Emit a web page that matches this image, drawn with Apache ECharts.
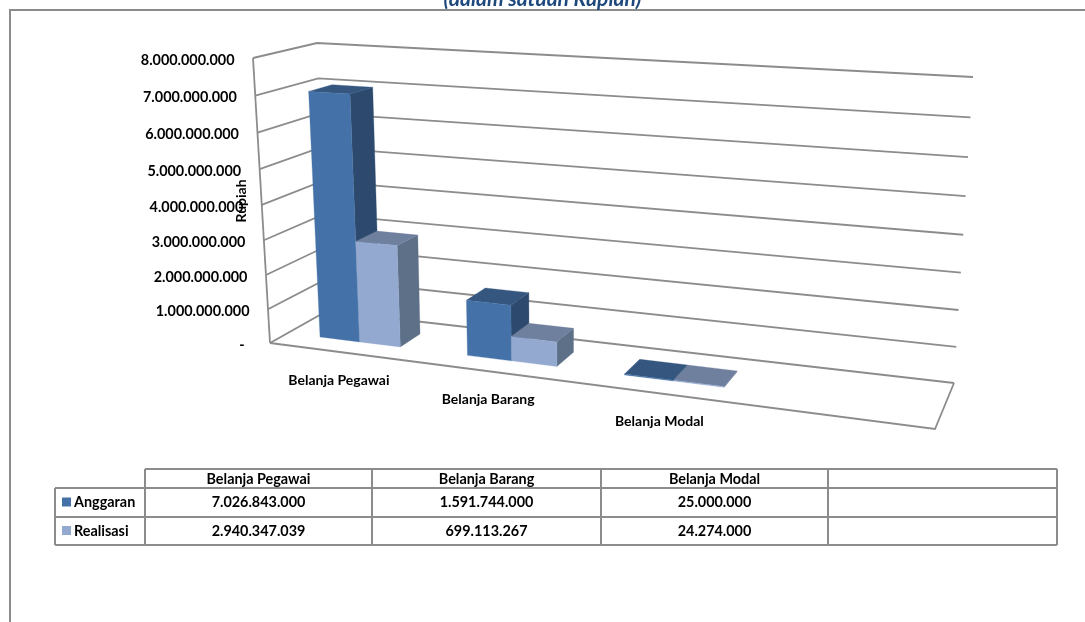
<!DOCTYPE html>
<html>
<head>
<meta charset="utf-8">
<title>Anggaran dan Realisasi</title>
<script src="https://cdn.jsdelivr.net/npm/echarts@6/dist/echarts.min.js"></script>
<style>
  html, body { margin: 0; padding: 0; background: #fff; }
  #chart { width: 1085px; height: 622px; }
</style>
</head>
<body>
<div id="chart"></div>
<script>
const categories = ['Belanja Pegawai', 'Belanja Barang', 'Belanja Modal', '']
const anggaran = [7026843000, 1591744000, 25000000]
const realisasi = [2940347039, 699113267, 24274000]
const yTicks = [0, 1000000000, 2000000000, 3000000000, 4000000000, 5000000000, 6000000000, 7000000000, 8000000000]

const FONT = 'Lato, "Noto Sans", sans-serif'
const GREY = '#8c8c8c'
const TEXT = '#000'
const colors = {
  anggaran: { front: '#4472a8', side: '#2d4a6e', top: '#34567f' },
  realisasi: { front: '#93a9d0', side: '#5e6f88', top: '#6f7f9e' }
}

// corners of the box as the picture shows them: floor and the plane at the axis max
const floorQuad = [[270, 343], [935, 429], [954, 383], [327, 311]]
const topQuad = [[253, 58], [949, 98.5], [973, 77], [317, 43]]

function homography(q) {
  const [[x0, y0], [x1, y1], [x2, y2], [x3, y3]] = q
  const dx1 = x1 - x2, dy1 = y1 - y2, dx2 = x3 - x2, dy2 = y3 - y2
  const sx = x0 - x1 + x2 - x3, sy = y0 - y1 + y2 - y3
  const den = dx1 * dy2 - dx2 * dy1
  const g = (sx * dy2 - dx2 * sy) / den
  const h = (dx1 * sy - sx * dy1) / den
  return (u, w) => {
    const d = g * u + h * w + 1
    return [
      ((x1 - x0 + g * x1) * u + (x3 - x0 + h * x3) * w + x0) / d,
      ((y1 - y0 + g * y1) * u + (y3 - y0 + h * y3) * w + y0) / d
    ]
  }
}
const onFloor = homography(floorQuad)
const onTop = homography(topQuad)

// u: along categories, v: along the value axis, w: depth, all 0..1
function project(u, v, w) {
  const t = 0.06
  const k = v * (1 - t) / (1 - t * v)
  const a = onFloor(u, w)
  const b = onTop(u, w)
  return [a[0] + (b[0] - a[0]) * k, a[1] + (b[1] - a[1]) * k]
}

function toUV(pt, cs) {
  return { u: (pt[0] - cs.x) / cs.width, v: (cs.y + cs.height - pt[1]) / cs.height }
}

const bandShift = [0.008, 0.018, 0.017] // bars sit a little right of the band centre
const labelShift = 0.012
const barWidth = 0.29 // share of a category band
const barDepth = [0.3, 0.68]
const catLabelDx = [-6, -5, 1]

function barSeries(name, data, side, palette) {
  return {
    name,
    type: 'custom',
    coordinateSystem: 'cartesian2d',
    clip: false,
    data: data.map((v, i) => [i, v]),
    renderItem(params, api) {
      const cs = params.coordSys
      const { u, v } = toUV(api.coord([api.value(0), api.value(1)]), cs)
      const bar = api.size([1, 0])[0] / cs.width * barWidth
      const u0 = u + bandShift[api.value(0)] + (side === 0 ? -bar : 0)
      const u1 = u0 + bar
      const [w0, w1] = barDepth
      const face = (pts, fill) => ({
        type: 'polygon',
        shape: { points: pts.map(p => project(p[0], p[1], p[2])) },
        style: { fill, stroke: fill, lineWidth: 0.3 }
      })
      return {
        type: 'group',
        children: [
          face([[u1, 0, w0], [u1, 0, w1], [u1, v, w1], [u1, v, w0]], palette.side),
          face([[u0, v, w0], [u1, v, w0], [u1, v, w1], [u0, v, w1]], palette.top),
          face([[u0, 0, w0], [u1, 0, w0], [u1, v, w0], [u0, v, w0]], palette.front)
        ]
      }
    }
  }
}

function tickText(v) {
  return v === 0 ? '-  ' : dotted(v)
}
function dotted(v) {
  return String(v).replace(/\B(?=(\d{3})+(?!\d))/g, '.')
}

const wallSeries = {
  type: 'custom',
  coordinateSystem: 'cartesian2d',
  clip: false,
  data: yTicks.map(t => [0, t]),
  renderItem(params, api) {
    const cs = params.coordSys
    const { v } = toUV(api.coord([0, api.value(1)]), cs)
    const line = pts => ({
      type: 'polyline',
      shape: { points: pts.map(p => project(p[0], p[1], p[2])) },
      style: { stroke: GREY, fill: 'none', lineWidth: 1.8 }
    })
    const children = [line([[0, v, 0], [0, v, 1], [1, v, 1]])]
    if (api.value(1) === 0) {
      children.push(line([[0, 0, 0], [1, 0, 0], [1, 0, 1]]))
      children.push(line([[0, 0, 0], [0, 1, 0]]))
    }
    const p = project(0, v, 0)
    children.push({
      type: 'text',
      style: {
        text: tickText(api.value(1)), x: p[0] - 18.5, y: p[1] + 2,
        align: 'right', verticalAlign: 'middle',
        font: 'bold 14.4px ' + FONT, fill: TEXT
      }
    })
    return { type: 'group', children }
  }
}

const categorySeries = {
  type: 'custom',
  coordinateSystem: 'cartesian2d',
  clip: false,
  data: categories.slice(0, 3).map((c, i) => [i, 0]),
  renderItem(params, api) {
    const cs = params.coordSys
    const i = api.value(0)
    const { u } = toUV(api.coord([i, 0]), cs)
    const p = project(u + labelShift, 0, 0)
    return {
      type: 'text',
      style: {
        text: categories[i], x: p[0] + catLabelDx[i], y: p[1] + 28,
        align: 'center', verticalAlign: 'middle',
        font: 'bold 14px ' + FONT, fill: TEXT
      }
    }
  }
}

// data table under the plot
const colX = [145, 372, 601, 828, 1057]
const rowY = [469, 488, 517, 545]
const legendLeft = 55

function hLine(x1, x2, y) {
  return { type: 'line', shape: { x1, y1: y, x2, y2: y }, style: { stroke: GREY, lineWidth: 2 } }
}
function vLine(x, y1, y2) {
  return { type: 'line', shape: { x1: x, y1, x2: x, y2 }, style: { stroke: GREY, lineWidth: 2 } }
}
function cell(text, x, y, align) {
  return {
    type: 'text', x, y,
    style: { text, align: align || 'center', verticalAlign: 'middle', font: 'bold 14.4px ' + FONT, fill: TEXT }
  }
}

function tableGraphic() {
  const g = []
  g.push(hLine(colX[0], colX[4], rowY[0]))
  rowY.slice(1).forEach(y => g.push(hLine(legendLeft, colX[4], y)))
  colX.forEach(x => g.push(vLine(x, rowY[0], rowY[3])))
  g.push(vLine(legendLeft, rowY[1], rowY[3]))
  categories.forEach((c, i) => {
    if (c) g.push(cell(c, (colX[i] + colX[i + 1]) / 2, 479))
  })
  const rows = [['Anggaran', anggaran, colors.anggaran.front], ['Realisasi', realisasi, colors.realisasi.front]]
  rows.forEach((r, j) => {
    const cy = (rowY[j + 1] + rowY[j + 2]) / 2
    g.push({ type: 'rect', shape: { x: 62, y: cy - 5, width: 9, height: 9 }, style: { fill: r[2] } })
    g.push(cell(r[0], 74, cy, 'left'))
    r[1].forEach((v, i) => g.push(cell(dotted(v), (colX[i] + colX[i + 1]) / 2, cy)))
  })
  return g
}

const chart = echarts.init(document.getElementById('chart'))
chart.setOption({
  animation: false,
  backgroundColor: '#fff',
  title: {
    text: '(dalam satuan Rupiah)',
    left: 'center',
    top: -16,
    textStyle: { fontFamily: FONT, fontSize: 21, fontWeight: 'bold', fontStyle: 'italic', color: '#1f497d' }
  },
  grid: { left: 0, right: 0, top: 0, bottom: 0 },
  xAxis: { type: 'category', data: categories, show: false },
  yAxis: { type: 'value', min: 0, max: 8000000000, interval: 1000000000, show: false },
  series: [
    wallSeries,
    categorySeries,
    barSeries('Anggaran', anggaran, 0, colors.anggaran),
    barSeries('Realisasi', realisasi, 1, colors.realisasi)
  ],
  graphic: [
    { type: 'polyline', shape: { points: [[10, 622], [10, 10], [1085, 10]] }, style: { stroke: GREY, fill: 'none', lineWidth: 2 } },
    {
      type: 'text', x: 241, y: 201, rotation: Math.PI / 2,
      style: { text: 'Rupiah', align: 'center', verticalAlign: 'middle', font: 'bold 14px ' + FONT, fill: TEXT }
    }
  ].concat(tableGraphic())
})
</script>
</body>
</html>
